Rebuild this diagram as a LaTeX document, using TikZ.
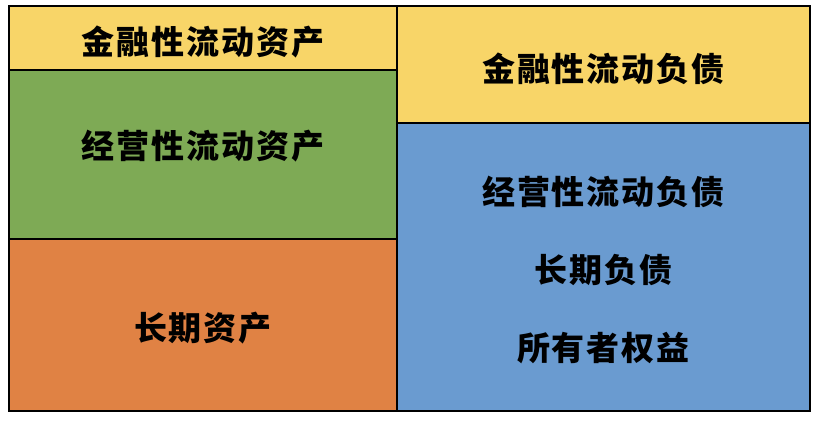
\documentclass[tikz,border=0pt]{standalone}
\usepackage{fontspec}
\newfontfamily\cjk{Noto Sans CJK SC}[LetterSpace=6]
\usepackage{tikz}
\usetikzlibrary{positioning}

\definecolor{finyellow}{HTML}{F8D568}
\definecolor{opgreen}{HTML}{7EAA55}
\definecolor{longorange}{HTML}{E08244}
\definecolor{liabblue}{HTML}{6A9BD0}

\begin{document}
\begin{tikzpicture}[
        x=1bp, y=-1bp,
        font=\cjk\bfseries\fontsize{33bp}{38bp}\selectfont,
        cell/.style = {rectangle, draw=black, line width=2.5bp, inner sep=0pt, outer sep=0pt, anchor=north west},
        cell_text/.style = {text=black, align=center, inner sep=0pt}
    ]
    \useasboundingbox (0,0) rectangle (822,426);

    % Asset side
    \node [cell, fill=finyellow, minimum width=388bp, minimum height=64bp] at (9,6) (fin_asset) {};
    \node [cell, fill=opgreen, minimum width=388bp, minimum height=169bp] at (9,70) (op_asset) {};
    \node [cell, fill=longorange, minimum width=388bp, minimum height=172bp] at (9,239) (long_asset) {};

    % Liability side
    \node [cell, fill=finyellow, minimum width=413bp, minimum height=117bp] at (397,6) (fin_liab) {};
    \node [cell, fill=liabblue, minimum width=413bp, minimum height=288bp] at (397,123) (rest_liab) {};

    % Labels
    \node [cell_text] at ([yshift=-4bp]fin_asset.center) (fin_asset_txt) {金融性流动资产};
    \node [cell_text] at ([yshift=8bp]op_asset.center) (op_asset_txt) {经营性流动资产};
    \node [cell_text] at ([yshift=-3bp]long_asset.center) (long_asset_txt) {长期资产};
    \node [cell_text] at ([yshift=-4bp]fin_liab.center) (fin_liab_txt) {金融性流动负债};
    \node [cell_text] at ([yshift=-3bp]rest_liab.center) (long_liab_txt) {长期负债};
    \node [cell_text, above=46bp of long_liab_txt] (op_liab_txt) {经营性流动负债};
    \node [cell_text, below=46bp of long_liab_txt] (equity_txt) {所有者权益};

\end{tikzpicture}
\end{document}
